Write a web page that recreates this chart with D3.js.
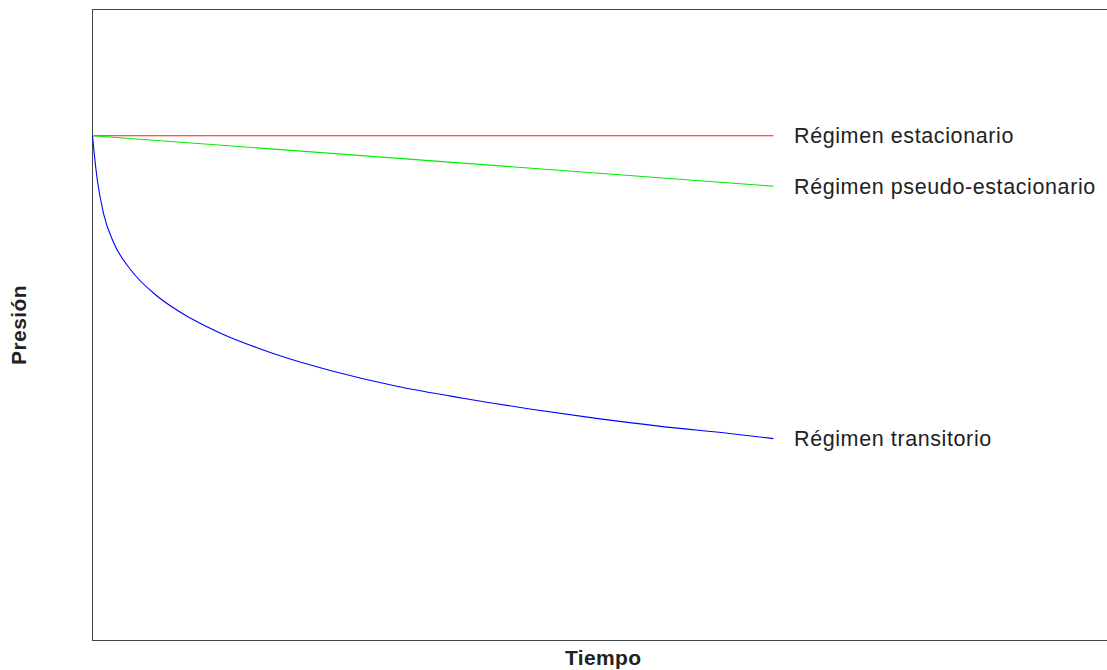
<!DOCTYPE html>
<html>
<head>
<meta charset="utf-8">
<script src="https://cdn.jsdelivr.net/npm/d3@7"></script>
<style>
  html, body { margin: 0; padding: 0; background: #fff; }
  svg { display: block; }
  text { font-family: "Liberation Sans", Arial, Helvetica, sans-serif; fill: #222; }
</style>
</head>
<body>
<svg id="chart" width="1107" height="670"></svg>
<script>
// ---- data ----
const seriesNames = ["Régimen estacionario", "Régimen pseudo-estacionario", "Régimen transitorio"];
const seriesColors = ["#ff1a1a", "#00ee00", "#0000ff"];

const tEstacionario = [0, 1];
const pEstacionario = [0.8, 0.8];

const tPseudo = [0, 1];
const pPseudo = [0.8, 0.72];

const tTransitorio = [0, 0.0025, 0.0069, 0.0166, 0.0313, 0.0557, 0.0948, 0.1437, 0.1921,
                      0.2415, 0.2903, 0.349, 0.4468, 0.544, 0.6422, 0.74, 0.8372, 0.9355, 1.0];
const pTransitorio = [0.8, 0.772, 0.731, 0.675, 0.630, 0.588, 0.546, 0.511, 0.485,
                      0.464, 0.446, 0.428, 0.403, 0.384, 0.367, 0.352, 0.339, 0.328, 0.320];

const xTitle = "Tiempo";
const yTitle = "Presión";

// ---- layout ----
const svg = d3.select("#chart");
const mLeft = 92.5, mTop = 9.5, mRight = 1114, mBottom = 640.5;

const x = d3.scaleLinear().domain([0, 1.5]).range([mLeft, mRight]);
const y = d3.scaleLinear().domain([0, 1]).range([mBottom, mTop]);

// frame
svg.append("rect")
  .attr("x", mLeft).attr("y", mTop)
  .attr("width", 1200 - mLeft).attr("height", mBottom - mTop)
  .attr("fill", "none").attr("stroke", "#444").attr("stroke-width", 1);

const series = [
  { t: tEstacionario, p: pEstacionario },
  { t: tPseudo, p: pPseudo },
  { t: tTransitorio, p: pTransitorio }
];

const line = d3.line()
  .x(d => x(d[0]))
  .y(d => y(d[1]))
  .curve(d3.curveMonotoneX);

series.forEach((s, i) => {
  const pts = s.t.map((t, j) => [t, s.p[j]]);
  svg.append("path")
    .datum(pts)
    .attr("d", line)
    .attr("fill", "none")
    .attr("stroke", seriesColors[i])
    .attr("stroke-width", 1.1);

  const last = pts[pts.length - 1];
  svg.append("text")
    .attr("x", x(last[0]) + 20.5)
    .attr("y", y(last[1]) + 7.5)
    .attr("font-size", 21.5)
    .attr("letter-spacing", 0.6)
    .text(seriesNames[i]);
});

// axis titles
svg.append("text")
  .attr("x", (mLeft + mRight) / 2)
  .attr("y", 664.5)
  .attr("text-anchor", "middle")
  .attr("font-size", 21)
  .attr("letter-spacing", 0.4)
  .attr("font-weight", "bold")
  .text(xTitle);

svg.append("text")
  .attr("transform", `translate(26, ${(mTop + mBottom) / 2}) rotate(-90)`)
  .attr("text-anchor", "middle")
  .attr("font-size", 21)
  .attr("letter-spacing", 0.4)
  .attr("font-weight", "bold")
  .text(yTitle);
</script>
</body>
</html>
